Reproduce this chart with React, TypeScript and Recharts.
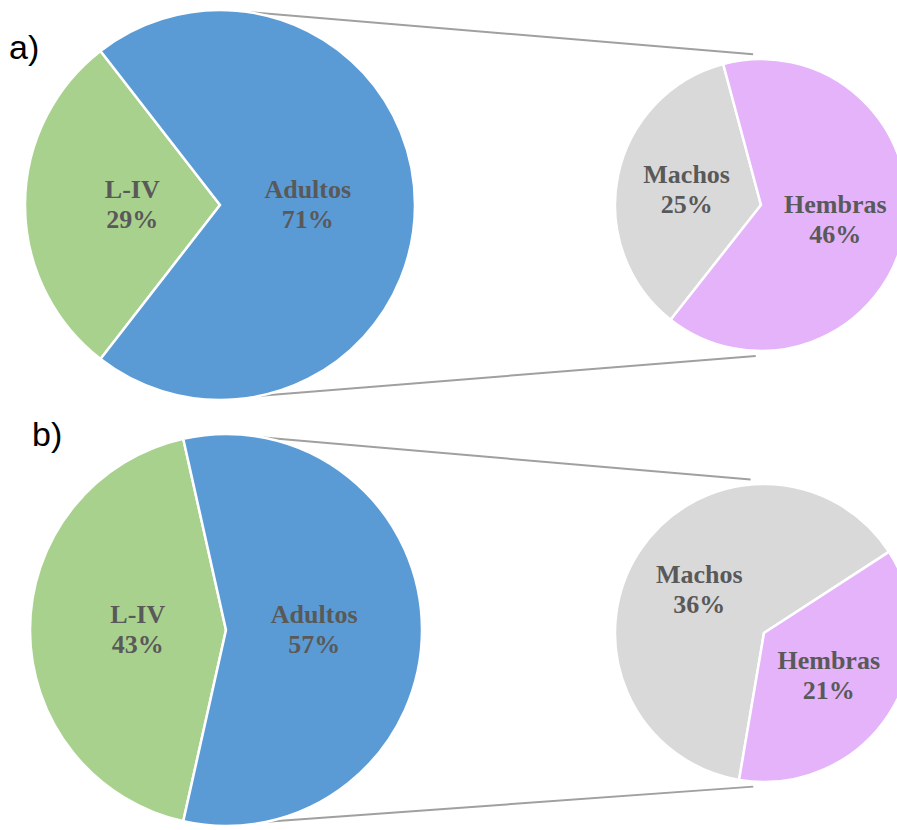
import { Cell, Pie, PieChart } from "recharts";

const stageNames = ["L-IV", "Adultos"];
const stageValuesA = [29, 71];
const stageValuesB = [43, 57];

const sexNames = ["Machos", "Hembras"];
const sexValuesA = [25, 46];
const sexValuesB = [36, 21];

const stageColors = ["#A9D18E", "#5B9BD5"];
const sexColors = ["#D9D9D9", "#E4B3FA"];

const toRows = (names: string[], values: number[]) =>
  names.map((name, i) => ({ name, value: values[i] }));

const RAD = Math.PI / 180;
const pt = (cx: number, cy: number, r: number, deg: number) => ({
  x: cx + r * Math.cos(deg * RAD),
  y: cy - r * Math.sin(deg * RAD),
});

// layout for the two pie-of-pie panels
const panels = [
  {
    tag: "a)",
    tagX: 9,
    tagY: 59,
    stages: stageValuesA,
    sexes: sexValuesA,
    big: { cx: 220, cy: 205, r: 195 },
    small: { cx: 761, cy: 205, r: 146, start: 105 },
    links: { bigTop: 82, bigBottom: -78, smallTop: 93, smallBottom: -92 },
  },
  {
    tag: "b)",
    tagX: 32,
    tagY: 446,
    stages: stageValuesB,
    sexes: sexValuesB,
    big: { cx: 226, cy: 630, r: 196 },
    small: { cx: 764, cy: 633, r: 149, start: 33 },
    links: { bigTop: 79, bigBottom: -78, smallTop: 95, smallBottom: -94 },
  },
];

const makeLabel =
  (factor: number) =>
  ({ cx, cy, midAngle, outerRadius, name, value }: any) => {
    const p = pt(cx, cy, outerRadius * factor, midAngle);
    return (
      <text
        x={p.x}
        y={p.y}
        textAnchor="middle"
        fill="#595959"
        fontFamily="'Liberation Serif', 'Times New Roman', serif"
        fontWeight="bold"
        fontSize={26}
      >
        <tspan x={p.x} dy={-7}>
          {name}
        </tspan>
        <tspan x={p.x} dy={30}>
          {value}%
        </tspan>
      </text>
    );
  };

export default function App() {
  return (
    <div
      style={{
        position: "absolute",
        left: 0,
        top: 0,
        width: 897,
        height: 830,
        background: "#fff",
        overflow: "hidden",
      }}
    >
      <PieChart width={897} height={830} margin={{ top: 0, right: 0, bottom: 0, left: 0 }}>
        {panels.map((pn) => {
          const share = pn.stages[0] / (pn.stages[0] + pn.stages[1]);
          const start = 180 - share * 180;
          const a1 = pt(pn.big.cx, pn.big.cy, pn.big.r, pn.links.bigTop);
          const a2 = pt(pn.small.cx, pn.small.cy, pn.small.r + 5, pn.links.smallTop);
          const b1 = pt(pn.big.cx, pn.big.cy, pn.big.r, pn.links.bigBottom);
          const b2 = pt(pn.small.cx, pn.small.cy, pn.small.r + 5, pn.links.smallBottom);
          return (
            <g key={pn.tag}>
              <line x1={a1.x} y1={a1.y} x2={a2.x} y2={a2.y} stroke="#a0a0a0" strokeWidth={2} />
              <line x1={b1.x} y1={b1.y} x2={b2.x} y2={b2.y} stroke="#a0a0a0" strokeWidth={2} />
              <text
                x={pn.tagX}
                y={pn.tagY}
                fontFamily="'Liberation Sans', Arial, sans-serif"
                fontSize={34}
                fill="#000"
              >
                {pn.tag}
              </text>
            </g>
          );
        })}
        {panels.map((pn) => {
          const share = pn.stages[0] / (pn.stages[0] + pn.stages[1]);
          const start = 180 - share * 180;
          return (
            <Pie
              key={pn.tag + "-big"}
              data={toRows(stageNames, pn.stages)}
              dataKey="value"
              nameKey="name"
              cx={pn.big.cx}
              cy={pn.big.cy}
              outerRadius={pn.big.r}
              startAngle={start}
              endAngle={start + 360}
              stroke="#fff"
              strokeWidth={2.5}
              label={makeLabel(0.45)}
              labelLine={false}
              isAnimationActive={false}
            >
              {stageColors.map((c) => (
                <Cell key={c} fill={c} />
              ))}
            </Pie>
          );
        })}
        {panels.map((pn) => (
          <Pie
            key={pn.tag + "-small"}
            data={toRows(sexNames, pn.sexes)}
            dataKey="value"
            nameKey="name"
            cx={pn.small.cx}
            cy={pn.small.cy}
            outerRadius={pn.small.r}
            startAngle={pn.small.start}
            endAngle={pn.small.start + 360}
            stroke="#fff"
            strokeWidth={2.5}
            label={makeLabel(0.52)}
            labelLine={false}
            isAnimationActive={false}
          >
            {sexColors.map((c) => (
              <Cell key={c} fill={c} />
            ))}
          </Pie>
        ))}
      </PieChart>
    </div>
  );
}
